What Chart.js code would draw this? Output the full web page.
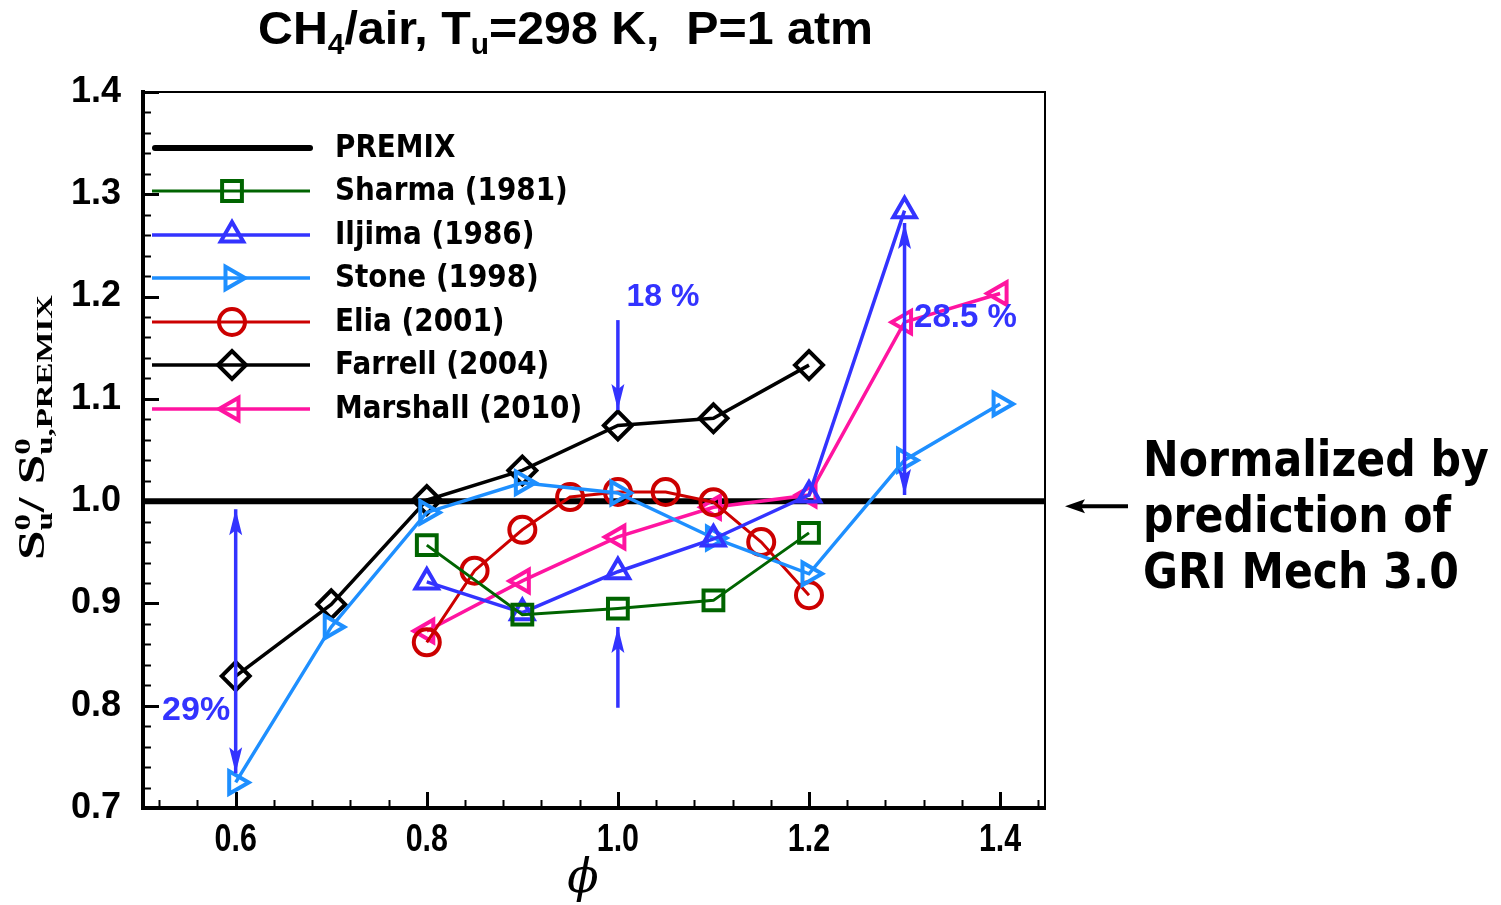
<!DOCTYPE html>
<html>
<head>
<meta charset="utf-8">
<script src="https://cdn.jsdelivr.net/npm/chart.js@4.4.1/dist/chart.umd.min.js"></script>
<style>
html, body { margin: 0; padding: 0; background: #fff; }
canvas { display: block; }
</style>
</head>
<body>
<canvas id="chart" width="1501" height="905"></canvas>
<script>
// equivalence ratio (phi) for each data set
const phiSharma   = [0.8, 0.9, 1.0, 1.1, 1.2];
const phiIljima   = [0.8, 0.9, 1.0, 1.1, 1.2, 1.3];
const phiStone    = [0.6, 0.7, 0.8, 0.9, 1.0, 1.1, 1.2, 1.3, 1.4];
const phiElia     = [0.8, 0.85, 0.9, 0.95, 1.0, 1.05, 1.1, 1.15, 1.2];
const phiFarrell  = [0.6, 0.7, 0.8, 0.9, 1.0, 1.1, 1.2];
const phiMarshall = [0.8, 0.9, 1.0, 1.1, 1.2, 1.3, 1.4];

// S0u / S0u,PREMIX
const sharma   = [0.957, 0.889, 0.895, 0.903, 0.969];
const iljima   = [0.921, 0.891, 0.931, 0.963, 1.006, 1.284];
const stone    = [0.725, 0.877, 0.989, 1.018, 1.008, 0.964, 0.929, 1.040, 1.095];
const elia     = [0.862, 0.932, 0.972, 1.004, 1.009, 1.009, 0.999, 0.960, 0.908];
const farrell  = [0.829, 0.899, 1.001, 1.030, 1.074, 1.081, 1.133];
const marshall = [0.873, 0.922, 0.965, 0.994, 1.006, 1.175, 1.203];

// axes
const xMin = 0.503, xMax = 1.447;
const yMin = 0.7, yMax = 1.4;
const xTicks = [0.6, 0.8, 1.0, 1.2, 1.4];
const yTicks = [0.7, 0.8, 0.9, 1.0, 1.1, 1.2, 1.3, 1.4];
const xMinorStep = 0.04;
const yMinorStep = 0.02;

// PREMIX reference line (normalised to 1)
const phiPremix = [xMin, xMax];
const premix = [1.0, 1.0];

// the scatter-band arrows and their labels
const arrows = [
    { x: 0.6, from: 0.992, to: 0.734, both: true },
    { x: 1.0, from: 1.177, to: 1.089, both: false },
    { x: 1.0, from: 0.798, to: 0.877, both: false },
    { x: 1.3, from: 1.006, to: 1.272, both: true }
];
const arrowLabels = [
    { text: '29%', x: 0.523, y: 0.795, size: 34 },
    { text: '18 %', x: 1.009, y: 1.199, size: 32 },
    { text: '28.5 %', x: 1.31, y: 1.179, size: 33 }
];

const BLUE = '#3333ff';

function pts(xs, ys) {
    return xs.map((v, i) => ({ x: v, y: ys[i] }));
}

function series(label, xs, ys, color, style, rotation, radius, lw) {
    return {
        label: label,
        data: pts(xs, ys),
        showLine: true,
        borderColor: color,
        borderWidth: lw,
        pointStyle: style,
        pointRotation: rotation,
        pointRadius: radius,
        pointBorderWidth: 4,
        pointBorderColor: color,
        pointBackgroundColor: 'rgba(0,0,0,0)',
        fill: false
    };
}

const datasets = [
    { label: 'PREMIX', data: pts(phiPremix, premix), showLine: true, borderColor: '#000',
      borderWidth: 6, pointRadius: 0, fill: false, order: 10 },
    series('Sharma (1981)', phiSharma, sharma, '#006400', 'rect', 0, 14, 3),
    series('Iljima (1986)', phiIljima, iljima, BLUE, 'triangle', 0, 13, 3.5),
    series('Stone (1998)', phiStone, stone, '#1e8fff', 'triangle', 90, 13, 3.5),
    series('Elia (2001)', phiElia, elia, '#cc0000', 'circle', 0, 13, 3),
    series('Farrell (2004)', phiFarrell, farrell, '#000000', 'rectRot', 0, 14, 3.5),
    series('Marshall (2010)', phiMarshall, marshall, '#ff14a0', 'triangle', -90, 13, 3.5)
];

// text helpers ----------------------------------------------------------
// parts: [text, kind] where kind is '', 'sub', 'sup' or 'stack' (text = [sup, sub])
function richWidth(ctx, parts, size, family, weight) {
    let w = 0;
    parts.forEach(p => {
        if (p[1] === 'stack') {
            ctx.font = `${weight} ${size * 0.62}px ${family}`;
            w += Math.max(ctx.measureText(p[0][0]).width, ctx.measureText(p[0][1]).width);
        } else {
            const s = p[1] ? size * 0.62 : size;
            ctx.font = `${weight} ${s}px ${family}`;
            w += ctx.measureText(p[0]).width;
        }
    });
    return w;
}

function drawRich(ctx, parts, x, y, size, family, weight, fitW) {
    const w = richWidth(ctx, parts, size, family, weight);
    const k = fitW ? fitW / w : 1;
    ctx.save();
    ctx.translate(x, y);
    ctx.scale(k, 1);
    ctx.textAlign = 'left';
    ctx.textBaseline = 'alphabetic';
    let cx = 0;
    parts.forEach(p => {
        const small = `${weight} ${size * 0.62}px ${family}`;
        if (p[1] === 'stack') {
            ctx.font = small;
            ctx.fillText(p[0][0], cx, -size * 0.38);
            ctx.fillText(p[0][1], cx, size * 0.22);
            cx += Math.max(ctx.measureText(p[0][0]).width, ctx.measureText(p[0][1]).width);
        } else if (p[1] === 'sub') {
            ctx.font = small;
            ctx.fillText(p[0], cx, size * 0.22);
            cx += ctx.measureText(p[0]).width;
        } else if (p[1] === 'sup') {
            ctx.font = small;
            ctx.fillText(p[0], cx, -size * 0.38);
            cx += ctx.measureText(p[0]).width;
        } else {
            ctx.font = `${weight} ${size}px ${family}`;
            ctx.fillText(p[0], cx, 0);
            cx += ctx.measureText(p[0]).width;
        }
    });
    ctx.restore();
}

function squeezed(ctx, text, x, y, font, sx, align) {
    ctx.save();
    ctx.font = font;
    const w = ctx.measureText(text).width * sx;
    let left = x;
    if (align === 'center') left = x - w / 2;
    if (align === 'right') left = x - w;
    ctx.translate(left, y);
    ctx.scale(sx, 1);
    ctx.textAlign = 'left';
    ctx.fillText(text, 0, 0);
    ctx.restore();
}

function arrowHead(ctx, x, y, dx, dy, len, half) {
    ctx.beginPath();
    ctx.moveTo(x, y);
    ctx.lineTo(x - dx * len - dy * half, y - dy * len + dx * half);
    ctx.lineTo(x - dx * len * 0.8, y - dy * len * 0.8);
    ctx.lineTo(x - dx * len + dy * half, y - dy * len - dx * half);
    ctx.closePath();
    ctx.fill();
}

const SANS = "'DejaVu Sans', Verdana, sans-serif";
const ARIAL = '"Liberation Sans", Arial, sans-serif';

// frame, inward ticks and all the annotation text
const decor = {
    id: 'decor',
    beforeDatasetsDraw(chart) {
        const { ctx, chartArea: a, scales: { x, y } } = chart;
        ctx.save();
        ctx.strokeStyle = '#000';
        ctx.lineWidth = 2;
        for (let k = Math.ceil(xMin / xMinorStep - 1e-6); k * xMinorStep <= xMax + 1e-9; k++) {
            const v = k * xMinorStep;
            const major = Math.abs(v / 0.2 - Math.round(v / 0.2)) < 1e-6;
            const px = Math.round(x.getPixelForValue(v)) + 0.5;
            ctx.lineWidth = major ? 3 : 2;
            ctx.beginPath();
            ctx.moveTo(px, a.bottom);
            ctx.lineTo(px, a.bottom - (major ? 16 : 8));
            ctx.stroke();
        }
        for (let k = Math.ceil(yMin / yMinorStep - 1e-6); k * yMinorStep <= yMax + 1e-9; k++) {
            const v = k * yMinorStep;
            const major = Math.abs(v / 0.1 - Math.round(v / 0.1)) < 1e-6;
            const py = Math.round(y.getPixelForValue(v)) + 0.5;
            ctx.lineWidth = major ? 3 : 2;
            ctx.beginPath();
            ctx.moveTo(a.left, py);
            ctx.lineTo(a.left + (major ? 16 : 8), py);
            ctx.stroke();
        }
        ctx.restore();
    },
    afterDatasetsDraw(chart) {
        const { ctx, chartArea: a, scales: { x, y } } = chart;
        ctx.save();

        // frame
        ctx.strokeStyle = '#000';
        ctx.lineWidth = 2;
        ctx.strokeRect(a.left, a.top, a.right - a.left, a.bottom - a.top);
        ctx.lineWidth = 4;
        ctx.beginPath();
        ctx.moveTo(a.left, a.top - 2);
        ctx.lineTo(a.left, a.bottom);
        ctx.lineTo(a.right + 1, a.bottom);
        ctx.stroke();

        // x tick labels (condensed bold)
        ctx.fillStyle = '#000';
        ctx.textBaseline = 'alphabetic';
        x.ticks.forEach(t => {
            squeezed(ctx, t.value.toFixed(1), x.getPixelForValue(t.value), 851,
                `bold 38px ${ARIAL}`, 0.8, 'center');
        });

        // legend
        const rowY = [148, 191, 235, 278, 322, 365, 409];
        datasets.forEach((d, i) => {
            const yy = rowY[i];
            ctx.strokeStyle = d.borderColor;
            ctx.lineWidth = i === 0 ? 6 : d.borderWidth;
            ctx.lineCap = i === 0 ? 'round' : 'butt';
            ctx.beginPath();
            ctx.moveTo(i === 0 ? 155 : 152, yy);
            ctx.lineTo(310, yy);
            ctx.stroke();
            if (i > 0) {
                ctx.lineWidth = d.pointBorderWidth;
                ctx.strokeStyle = d.pointBorderColor;
                ctx.fillStyle = 'rgba(0,0,0,0)';
                Chart.helpers.drawPoint(ctx, {
                    pointStyle: d.pointStyle, rotation: d.pointRotation,
                    radius: d.pointRadius, borderWidth: d.pointBorderWidth
                }, 232, yy);
            }
            ctx.fillStyle = '#000';
            ctx.textBaseline = 'middle';
            squeezed(ctx, d.label, 335, yy + 1, `bold 32px ${SANS}`, 0.87, 'left');
        });

        // arrows
        ctx.strokeStyle = BLUE;
        ctx.fillStyle = BLUE;
        ctx.lineWidth = 3.5;
        arrows.forEach(r => {
            const px = x.getPixelForValue(r.x);
            const p0 = y.getPixelForValue(r.from);
            const p1 = y.getPixelForValue(r.to);
            const dir = p1 > p0 ? 1 : -1;
            ctx.beginPath();
            ctx.moveTo(px, p0);
            ctx.lineTo(px, p1);
            ctx.stroke();
            arrowHead(ctx, px, p1, 0, dir, 26, 6.5);
            if (r.both) arrowHead(ctx, px, p0, 0, -dir, 26, 6.5);
        });
        ctx.textBaseline = 'middle';
        arrowLabels.forEach(l => {
            squeezed(ctx, l.text, x.getPixelForValue(l.x), y.getPixelForValue(l.y),
                `bold ${l.size}px ${ARIAL}`, 1.0, 'left');
        });

        // title
        ctx.fillStyle = '#000';
        drawRich(ctx, [['CH', ''], ['4', 'sub'], ['/air, T', ''], ['u', 'sub'], ['=298 K,  P=1 atm', '']],
            258, 44, 47, ARIAL, 'bold', 615);

        // y-axis title (rotated)
        ctx.save();
        ctx.translate(44, 560);
        ctx.rotate(-Math.PI / 2);
        drawRich(ctx, [['S', ''], [['0', 'u'], 'stack'], ['/ S', ''], [['0', 'u,PREMIX'], 'stack']],
            0, 0, 37, '"Liberation Serif", "Times New Roman", serif', 'bold', 265);
        ctx.restore();

        // x-axis title
        ctx.font = 'italic 46px "DejaVu Serif", "Liberation Serif", serif';
        ctx.textAlign = 'center';
        ctx.textBaseline = 'alphabetic';
        ctx.fillText('\u03D5', 583, 892);

        // side note with arrow to the PREMIX line
        const py1 = y.getPixelForValue(1.0) + 5;
        ctx.strokeStyle = '#000';
        ctx.fillStyle = '#000';
        ctx.lineWidth = 4;
        ctx.beginPath();
        ctx.moveTo(1128, py1);
        ctx.lineTo(1080, py1);
        ctx.stroke();
        arrowHead(ctx, 1065, py1, -1, 0, 20, 7);
        ctx.textBaseline = 'alphabetic';
        ['Normalized by', 'prediction of', 'GRI Mech 3.0'].forEach((s, i) => {
            squeezed(ctx, s, 1143, 476 + i * 56, `bold 49px ${SANS}`, 0.87, 'left');
        });

        ctx.restore();
    }
};

new Chart(document.getElementById('chart'), {
    type: 'scatter',
    data: { datasets: datasets },
    options: {
        responsive: false,
        animation: false,
        devicePixelRatio: 1,
        layout: { padding: { top: 92, right: 456, bottom: 0, left: 0 } },
        plugins: { legend: { display: false }, tooltip: { enabled: false }, title: { display: false } },
        scales: {
            x: {
                type: 'linear', min: xMin, max: xMax,
                afterFit: s => { s.height = 97; },
                afterBuildTicks: s => { s.ticks = xTicks.map(v => ({ value: v })); },
                grid: { display: false, drawTicks: false },
                border: { display: false },
                ticks: { display: false }
            },
            y: {
                type: 'linear', min: yMin, max: yMax,
                afterFit: s => { s.width = 143; },
                afterBuildTicks: s => { s.ticks = yTicks.map(v => ({ value: v })); },
                grid: { display: false, drawTicks: false },
                border: { display: false },
                ticks: {
                    padding: 22, color: '#000',
                    font: { family: ARIAL, size: 36, weight: 'bold' },
                    callback: v => v.toFixed(1)
                }
            }
        }
    },
    plugins: [decor]
});
</script>
</body>
</html>
